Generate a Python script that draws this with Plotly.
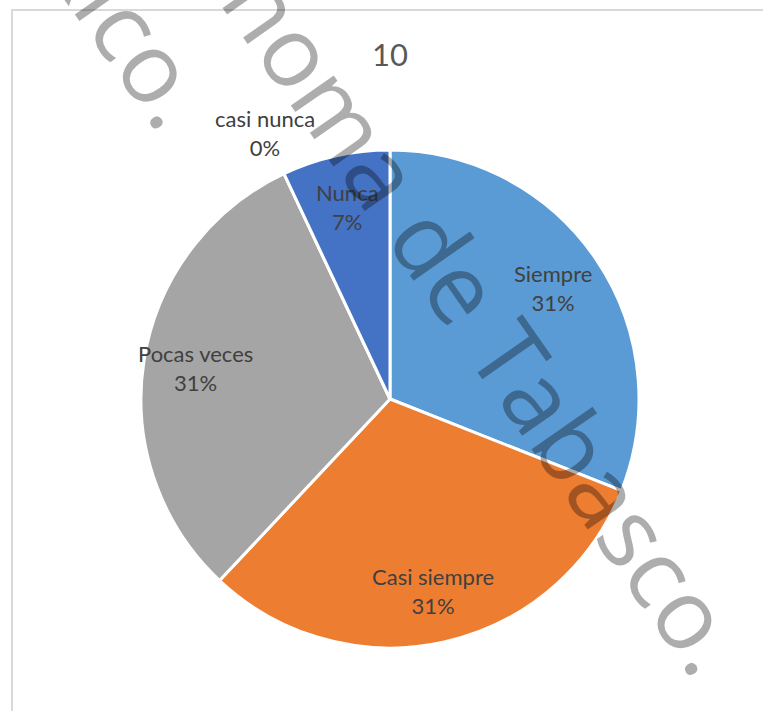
import math
import plotly.graph_objects as go

labels = ["Siempre", "Casi siempre", "Pocas veces", "casi nunca", "Nunca"]
values = [31, 31, 31, 0, 7]
colors = ["#5B9BD5", "#ED7D31", "#A5A5A5", "#FFC000", "#4472C4"]
title_text = "10"

W, H = 763, 711
cx, cy, r = 390, 399, 249

fig = go.Figure()
fig.add_trace(go.Pie(
    labels=labels,
    values=values,
    sort=False,
    direction="clockwise",
    rotation=0,
    marker=dict(colors=colors, line=dict(color="white", width=3)),
    textinfo="none",
    showlegend=False,
    domain=dict(x=[(cx - r) / W, (cx + r) / W], y=[(H - cy - r) / H, (H - cy + r) / H]),
    hoverinfo="label+percent",
))

# data labels placed at each slice's mid-angle (Excel-style)
total = sum(values)
annotations = []
cum = 0.0
for lab, v in zip(labels, values):
    theta = 2 * math.pi * (cum + v / 2) / total
    k = 0.79 if v > 0 else 1.18
    px = cx + k * r * math.sin(theta)
    py = cy - k * r * math.cos(theta)
    pct = round(100 * v / total)
    annotations.append(dict(
        text=f"{lab}<br>{pct}%", xref="paper", yref="paper", x=px / W, y=1 - py / H,
        xanchor="center", yanchor="middle", showarrow=False,
        font=dict(family="Lato", size=22, color="#404040"),
    ))
    cum += v

wm_font = dict(family="Open Sans", size=98, color="rgba(0,0,0,0.32)")
annotations += [
    dict(text="Autónoma de Tabasco.", xref="paper", yref="paper", x=425 / W, y=1 - 231 / H,
         xanchor="center", yanchor="middle", textangle=55, showarrow=False, font=wm_font),
    dict(text="México.", xref="paper", yref="paper", x=90 / W, y=1 + 30 / H,
         xanchor="center", yanchor="middle", textangle=55, showarrow=False, font=wm_font),
]

fig.update_layout(
    width=W, height=H,
    margin=dict(l=0, r=0, t=0, b=0),
    paper_bgcolor="white",
    title=dict(text=title_text, x=cx / W, xanchor="center", y=1 - 55 / H, yanchor="middle",
               font=dict(family="Lato", size=31, color="#595959")),
    shapes=[
        dict(type="rect", xref="paper", yref="paper", x0=12 / W, x1=1.05, y0=-0.05, y1=1 - 10 / H,
             line=dict(color="#D9D9D9", width=2), fillcolor="rgba(0,0,0,0)", layer="below"),
    ],
    annotations=annotations,
)

fig.write_html("out.html")
